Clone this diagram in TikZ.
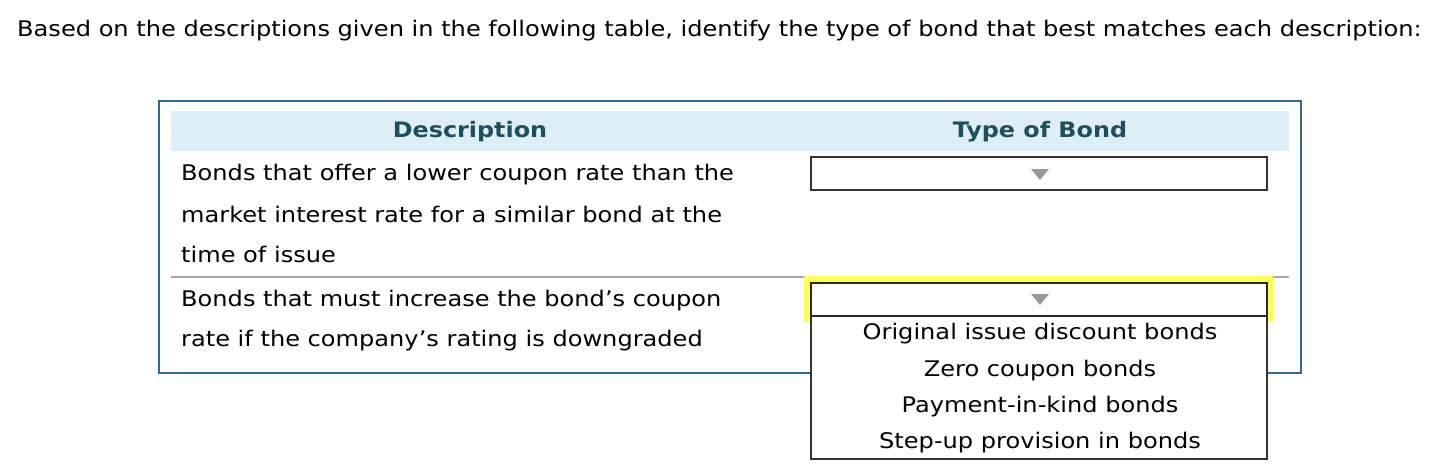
\documentclass[tikz,border=0pt]{standalone}
\usepackage{fontspec}
\setmainfont{DejaVu Sans}[FakeStretch=1.12]
\begin{document}
\begin{tikzpicture}[x=1pt,y=-1pt,
  txt/.style={anchor=west,inner sep=0pt,font=\fontsize{21.5}{24}\selectfont},
  hdr/.style={inner sep=0pt,font=\fontsize{21.3}{24}\selectfont\bfseries,text=hdrc},
  opt/.style={inner sep=0pt,font=\fontsize{21.5}{24}\selectfont},
  tri/.style={fill=gray!80,draw=none}]
\definecolor{bluebd}{HTML}{2C6A98}
\definecolor{hdrbg}{HTML}{DDEEF6}
\definecolor{hdrc}{HTML}{1E4F5E}
\definecolor{yel}{HTML}{FFFF55}
\useasboundingbox (0,0) rectangle (1454,472);
\fill[white] (0,0) rectangle (1454,472);
\node[txt] (title) at (17,31) {Based on the descriptions given in the following table, identify the type of bond that best matches each description:};
\draw[bluebd,line width=1.6pt] (159,101) rectangle (1301,373);
\fill[hdrbg] (171,111) rectangle (1289,151);
\node[hdr] (h1) at (470,132) {Description};
\node[hdr] (h2) at (1040,132) {Type of Bond};
\node[txt] (r1a) at (181,175) {Bonds that offer a lower coupon rate than the};
\node[txt] (r1b) at (181,214) {market interest rate for a similar bond at the};
\node[txt] (r1c) at (181,254) {time of issue};
\draw[black!80,line width=1.2pt] (811,157) rectangle (1267,190);
\fill[tri] (1031,169) -- (1049,169) -- (1040,180) -- cycle;
\draw[gray!70,line width=1.6pt] (171,277) -- (1289,277);
\node[txt] (r2a) at (181,301) {Bonds that must increase the bond’s coupon};
\node[txt] (r2b) at (181,341) {rate if the company’s rating is downgraded};
\fill[yel] (804,276) rectangle (1273,322);
\fill[white] (811,283) rectangle (1267,459);
\draw[black!80,line width=1.2pt] (811,283) rectangle (1267,459);
\draw[black!85,line width=2pt] (811,283) rectangle (1267,316);
\fill[tri] (1031,294) -- (1049,294) -- (1040,305) -- cycle;
\node[opt] (o1) at (1040,334) {Original issue discount bonds};
\node[opt] (o2) at (1040,371) {Zero coupon bonds};
\node[opt] (o3) at (1040,407) {Payment-in-kind bonds};
\node[opt] (o4) at (1040,443) {Step-up provision in bonds};
\end{tikzpicture}
\end{document}
